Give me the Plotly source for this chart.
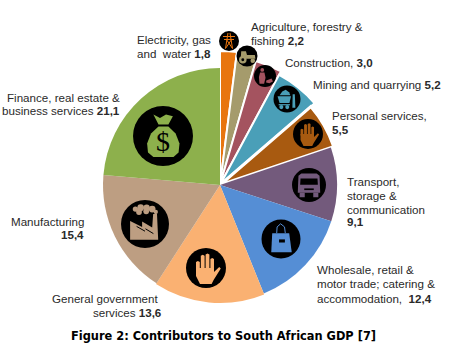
import plotly.graph_objects as go

W, H = 451, 350
CX, CY, RMAX = 220, 185, 135

sectors = ["Electricity, gas and water", "Agriculture, forestry & fishing", "Construction",
           "Mining and quarrying", "Personal services", "Transport, storage & communication",
           "Wholesale, retail & motor trade; catering & accommodation", "General government services",
           "Manufacturing", "Finance, real estate & business services"]
values = [1.8, 2.2, 3.0, 5.2, 5.5, 9.1, 12.4, 13.6, 15.4, 21.1]
radii = [134, 130, 129, 125, 120, 117, 117, 118, 117, 117]
colors = ["#E8750F", "#A59B6C", "#A4535F", "#4A9FB8", "#A85A10", "#735A7C",
          "#558ED5", "#FAB172", "#BD9E82", "#8DB04C"]
edge_widths = [2, 2, 2, 2, 3, 0, 0, 0, 0, 0]

total = sum(values)
widths, thetas, cum = [], [], 0
for v in values:
    w = v / total * 360
    widths.append(w)
    thetas.append(cum + w / 2)
    cum += w

fig = go.Figure(go.Barpolar(r=radii, theta=thetas, width=widths, text=sectors,
                            marker=dict(color=colors, line=dict(color="white", width=edge_widths)),
                            hovertemplate="%{text}<extra></extra>"))


def fx(x):
    return x / W


def fy(y):
    return 1 - y / H


shapes, annots = [], []


def path(cx, cy, r, d, fill=None, line=None, lw=1):
    out = []
    toks = d.split()
    i = 0
    while i < len(toks):
        t = toks[i]
        if t in "MLZ":
            out.append(t)
            i += 1
            continue
        px, py = t.split(",")
        out.append(f"{fx(cx + float(px) * r):.5f},{fy(cy + float(py) * r):.5f}")
        i += 1
    shapes.append(dict(type="path", xref="paper", yref="paper", path=" ".join(out),
                       fillcolor=fill or "rgba(0,0,0,0)",
                       line=dict(color=line or "rgba(0,0,0,0)", width=lw)))


def circ(cx, cy, r, fill):
    shapes.append(dict(type="circle", xref="paper", yref="paper",
                       x0=fx(cx - r), x1=fx(cx + r), y0=fy(cy + r), y1=fy(cy - r),
                       fillcolor=fill, line=dict(width=0)))


def poly(pts):
    return "M " + " L ".join(f"{a},{b}" for a, b in pts) + " Z"


def hand(cx, cy, r, c):
    circ(cx, cy, r, "black")
    for x0, x1, top in [(-0.5, -0.31, -0.35), (-0.26, -0.07, -0.66), (-0.02, 0.17, -0.72), (0.22, 0.4, -0.5)]:
        path(cx, cy, r, poly([(x0, 0.1), (x0, top + .05), ((x0 + x1) / 2, top), (x1, top + .05), (x1, 0.1)]), fill=c)
    path(cx, cy, r, poly([(-0.5, 0.0), (0.4, 0.0), (0.4, 0.2), (0.66, -0.05), (0.74, 0.03), (0.38, 0.6),
                          (0.28, 0.8), (-0.3, 0.8), (-0.5, 0.4)]), fill=c)


def bus(cx, cy, r, c):
    circ(cx, cy, r, "black")
    path(cx, cy, r, poly([(-0.62, -0.55), (-0.45, -0.68), (0.45, -0.68), (0.62, -0.55), (0.66, 0.45), (-0.66, 0.45)]), fill=c)
    path(cx, cy, r, poly([(-0.5, -0.38), (0.5, -0.38), (0.52, -0.02), (-0.52, -0.02)]), fill="black")
    path(cx, cy, r, poly([(-0.55, 0.45), (-0.25, 0.45), (-0.25, 0.72), (-0.55, 0.72)]), fill=c)
    path(cx, cy, r, poly([(0.25, 0.45), (0.55, 0.45), (0.55, 0.72), (0.25, 0.72)]), fill=c)
    path(cx, cy, r, poly([(-0.28, 0.2), (0.28, 0.2), (0.28, 0.3), (-0.28, 0.3)]), fill="black")


def bag(cx, cy, r, c):
    circ(cx, cy, r, "black")
    path(cx, cy, r, poly([(-0.45, -0.3), (0.42, -0.3), (0.55, 0.68), (-0.5, 0.68)]), fill=c)
    path(cx, cy, r, "M -0.22,-0.3 L -0.2,-0.62 L -0.02,-0.78 L 0.18,-0.62 L 0.22,-0.3", line=c, lw=1)
    path(cx, cy, r, poly([(-0.1, 0.02), (0.2, 0.02), (0.2, 0.18), (-0.1, 0.18)]), fill="black")


def factory(cx, cy, r, c):
    circ(cx, cy, r, "black")
    path(cx, cy, r, poly([(-0.62, -0.12), (-0.12, 0.12), (-0.12, -0.1), (0.3, 0.15), (0.34, -0.42),
                          (0.5, -0.42), (0.55, 0.66), (-0.62, 0.66)]), fill=c)
    for x, y, q in [(-0.4, -0.62, 0.11), (-0.18, -0.68, 0.14), (0.07, -0.68, 0.13), (0.3, -0.62, 0.14),
                    (0.45, -0.5, 0.09), (-0.25, -0.5, 0.12), (0.05, -0.53, 0.12)]:
        circ(cx + x * r, cy + y * r, q * r, c)
    path(cx, cy, r, "M -0.35,0.1 L 0,0.3", line="black", lw=1)
    path(cx, cy, r, "M 0.02,0.2 L 0.35,0.4", line="black", lw=1)


def moneybag(cx, cy, r, c):
    circ(cx, cy, r, "black")
    path(cx, cy, r, poly([(-0.32, -0.72), (-0.1, -0.6), (0.1, -0.72), (0.33, -0.66), (0.18, -0.38), (-0.15, -0.38)]), fill=c)
    path(cx, cy, r, poly([(-0.15, -0.32), (0.18, -0.32), (0.42, -0.08), (0.55, 0.25), (0.52, 0.55), (0.35, 0.7),
                          (-0.32, 0.7), (-0.5, 0.55), (-0.53, 0.25), (-0.4, -0.08)]), fill=c)
    annots.append(dict(x=fx(cx), y=fy(cy + 0.18 * r), xref="paper", yref="paper", text="$", showarrow=False,
                       font=dict(family="Liberation Serif", size=28, color="black")))


def cart(cx, cy, r, c):
    circ(cx, cy, r, "black")
    path(cx, cy, r, poly([(-0.7, -0.2), (0.3, -0.2), (0.18, 0.3), (-0.55, 0.3)]), fill=c)
    path(cx, cy, r, poly([(-0.55, -0.27), (-0.35, -0.55), (-0.1, -0.68), (0.15, -0.5), (0.25, -0.27)]), fill=c)
    path(cx, cy, r, poly([(-0.62, 0.38), (0.22, 0.38), (0.22, 0.47), (-0.62, 0.47)]), fill=c)
    circ(cx - 0.42 * r, cy + 0.6 * r, 0.15 * r, c)
    circ(cx + 0.02 * r, cy + 0.6 * r, 0.15 * r, c)
    path(cx, cy, r, poly([(0.42, -0.35), (0.58, -0.35), (0.62, 0.65), (0.4, 0.65)]), fill=c)


def worker(cx, cy, r, c):
    circ(cx, cy, r, "black")
    circ(cx - 0.25 * r, cy - 0.55 * r, 0.17 * r, c)
    path(cx, cy, r, poly([(-0.45, -0.32), (-0.05, -0.32), (0.05, 0.15), (-0.08, 0.7), (-0.5, 0.7), (-0.55, 0.1)]), fill=c)
    path(cx, cy, r, poly([(0.12, 0.4), (0.6, 0.22), (0.72, 0.5), (0.4, 0.65), (0.1, 0.6)]), fill=c)


def tractor(cx, cy, r, c):
    circ(cx, cy, r, "black")
    path(cx, cy, r, poly([(-0.55, -0.45), (-0.1, -0.45), (0.0, -0.1), (0.75, -0.1), (0.8, 0.25), (-0.6, 0.25)]), fill=c)
    circ(cx - 0.4 * r, cy + 0.35 * r, 0.36 * r, c)
    circ(cx - 0.4 * r, cy + 0.35 * r, 0.14 * r, "black")
    circ(cx + 0.55 * r, cy + 0.45 * r, 0.22 * r, c)


def pylon(cx, cy, r, c):
    circ(cx, cy, r, "black")
    for d in ["M -0.1,-0.8 L -0.35,0.75", "M 0.1,-0.8 L 0.35,0.75", "M -0.35,0.75 L 0.22,-0.1",
              "M 0.35,0.75 L -0.22,-0.1", "M -0.6,-0.45 L 0.6,-0.45", "M -0.5,-0.15 L 0.5,-0.15"]:
        path(cx, cy, r, d, line=c, lw=1)


pylon(229, 41, 10, colors[0])
tractor(247, 56, 10.5, colors[1])
worker(265, 76, 11, colors[2])
cart(287, 99, 13.5, colors[3])
hand(308, 134, 15, colors[4])
bus(309, 185, 17, colors[5])
bag(281, 239, 19.5, colors[6])
hand(206, 268, 20, colors[7])
factory(145, 224, 24, colors[8])
moneybag(163, 136, 30, colors[9])

TXT = dict(family="Liberation Sans", size=11.6, color="#2a2a2a")
labels = [
    (136, 39, "left", "Electricity, gas"),
    (136, 53, "left", "and  water <b>1,8</b>"),
    (250, 26, "left", "Agriculture, forestry &"),
    (250, 40, "left", "fishing <b>2,2</b>"),
    (284, 63, "left", "Construction, <b>3,0</b>"),
    (312, 84, "left", "Mining and quarrying <b>5,2</b>"),
    (331, 116, "left", "Personal services,"),
    (331, 129, "left", "<b>5,5</b>"),
    (346, 181, "left", "Transport,"),
    (346, 195, "left", "storage &"),
    (346, 209, "left", "communication"),
    (346, 222, "left", "<b>9,1</b>"),
    (316, 269, "left", "Wholesale, retail &"),
    (316, 283.5, "left", "motor trade; catering &"),
    (316, 298, "left", "accommodation,  <b>12,4</b>"),
    (159, 298, "right", "General government"),
    (163, 312, "right", "services <b>13,6</b>"),
    (85, 221, "right", "Manufacturing"),
    (85, 234, "right", "<b>15,4</b>"),
    (121, 97, "right", "Finance, real estate &"),
    (121, 110, "right", "business services <b>21,1</b>"),
]
for x, y, a, t in labels:
    annots.append(dict(x=fx(x), y=fy(y), xref="paper", yref="paper", xanchor=a, yanchor="middle",
                       text=t, showarrow=False, font=TXT, borderpad=0))

annots.append(dict(x=fx(223.5), y=fy(336), xref="paper", yref="paper", xanchor="center", yanchor="middle",
                   text="<b>Figure 2: Contributors to South African GDP [7]</b>", showarrow=False,
                   font=dict(family="DejaVu Sans", size=11.4, color="#000000")))

fig.update_layout(
    width=W, height=H, margin=dict(l=0, r=0, t=0, b=0), showlegend=False,
    paper_bgcolor="white", plot_bgcolor="white", shapes=shapes, annotations=annots,
    polar=dict(
        domain=dict(x=[(CX - RMAX) / W, (CX + RMAX) / W], y=[1 - (CY + RMAX) / H, 1 - (CY - RMAX) / H]),
        bgcolor="white", bargap=0,
        radialaxis=dict(range=[0, RMAX], visible=False),
        angularaxis=dict(visible=False, direction="clockwise", rotation=90),
    ),
)
fig.write_html("out.html", config={"displayModeBar": False}, post_script="document.body.style.margin='0';")
